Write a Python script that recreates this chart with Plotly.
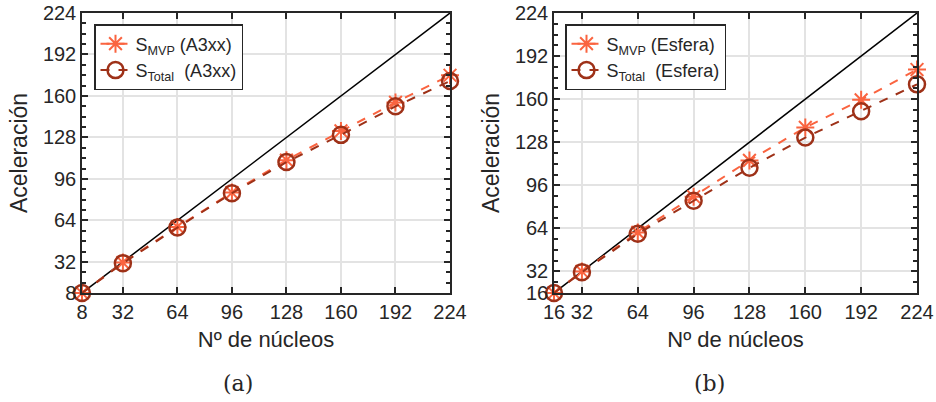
import plotly.graph_objects as go

# ---- data ----
cores_a = [8, 32, 64, 96, 128, 160, 192, 224]
mvp_a = [8, 31.5, 59, 85.5, 110.5, 133, 155, 176]
total_a = [8, 31, 58.5, 85, 109, 130, 152, 171.5]

cores_b = [16, 32, 64, 96, 128, 160, 192, 224]
mvp_b = [16, 32, 61, 87.5, 114.5, 139, 159.5, 182]
total_b = [16, 31.5, 60, 84.5, 109, 131.5, 151, 171]

ticks_a = [8, 32, 64, 96, 128, 160, 192, 224]
ticks_b = [16, 32, 64, 96, 128, 160, 192, 224]

MVP_COLOR = "#FA6440"
TOT_COLOR = "#9E3118"
FONT = "Liberation Sans"
TXT = "#262626"

fig = go.Figure()

def add_panel(xs, mvp, tot, lo, xa, ya, leg, tag):
    fig.add_trace(go.Scatter(x=[lo, 224], y=[lo, 224], mode="lines",
                             line=dict(color="black", width=1.5),
                             showlegend=False, xaxis=xa, yaxis=ya, hoverinfo="skip"))
    fig.add_trace(go.Scatter(x=xs, y=mvp, mode="lines+markers",
                             name=f"S<sub>MVP</sub> ({tag})", cliponaxis=False,
                             line=dict(color=MVP_COLOR, width=2, dash="dash"),
                             marker=dict(symbol="asterisk-open", size=15,
                                         line=dict(color=MVP_COLOR, width=2)),
                             xaxis=xa, yaxis=ya, legend=leg))
    fig.add_trace(go.Scatter(x=xs, y=tot, mode="lines+markers",
                             name=f"S<sub>Total</sub>  ({tag})", cliponaxis=False,
                             line=dict(color=TOT_COLOR, width=2, dash="dash"),
                             marker=dict(symbol="circle-open", size=16,
                                         line=dict(color=TOT_COLOR, width=2.5)),
                             xaxis=xa, yaxis=ya, legend=leg))

add_panel(cores_a, mvp_a, total_a, 8, "x", "y", "legend", "A3xx")
add_panel(cores_b, mvp_b, total_b, 16, "x2", "y2", "legend2", "Esfera")

W, H = 936, 402
def dx(a, b):
    return [a / W, b / W]
ydom = [(H - 293) / H, (H - 13) / H]

axis_common = dict(showline=True, linecolor=TXT, linewidth=1.5, mirror="allticks",
                   ticks="inside", ticklen=6, tickwidth=1.5, tickcolor=TXT,
                   showgrid=True, gridcolor="#E3E3E3", gridwidth=1.5,
                   zeroline=False, tickfont=dict(family=FONT, size=20, color=TXT),
                   tickmode="array", automargin=False, ticklabeloverflow="allow")

def yaxis_cfg(lo, ticks, anchor):
    d = dict(axis_common)
    d.update(range=[lo, 224], tickvals=ticks, domain=ydom, anchor=anchor,
             title=dict(text="Aceleración", font=dict(family=FONT, size=23, color=TXT), standoff=9),
             minor=dict(dtick=8, tick0=0, ticks="inside", ticklen=4, tickcolor=TXT, showgrid=False))
    return d

def xaxis_cfg(lo, ticks, dom, anchor):
    d = dict(axis_common)
    d.update(range=[lo, 224], tickvals=ticks, domain=dom, anchor=anchor,
             title=dict(text="Nº de núcleos", font=dict(family=FONT, size=22, color=TXT), standoff=10))
    return d

legend_common = dict(bgcolor="white", bordercolor=TXT, borderwidth=1.5,
                     font=dict(family=FONT, size=18, color=TXT),
                     xanchor="left", yanchor="top", tracegroupgap=0, itemwidth=30)

fig.update_layout(
    width=W, height=H,
    margin=dict(l=0, r=0, t=0, b=0),
    paper_bgcolor="white", plot_bgcolor="white",
    xaxis=xaxis_cfg(8, ticks_a, dx(82, 450), "y"),
    yaxis=yaxis_cfg(8, ticks_a, "x"),
    xaxis2=xaxis_cfg(16, ticks_b, dx(554, 917), "y2"),
    yaxis2=yaxis_cfg(16, ticks_b, "x2"),
    legend=dict(legend_common, x=94 / W, y=(H - 24) / H),
    legend2=dict(legend_common, x=565 / W, y=(H - 24) / H),
    annotations=[
        dict(text="(a)", x=238 / W, y=(H - 383) / H, xref="paper", yref="paper",
             xanchor="center", yanchor="middle",
             showarrow=False, font=dict(family="DejaVu Serif", size=22, color=TXT)),
        dict(text="(b)", x=709 / W, y=(H - 383) / H, xref="paper", yref="paper",
             xanchor="center", yanchor="middle",
             showarrow=False, font=dict(family="DejaVu Serif", size=22, color=TXT)),
    ],
)

fig.write_html("out.html")
